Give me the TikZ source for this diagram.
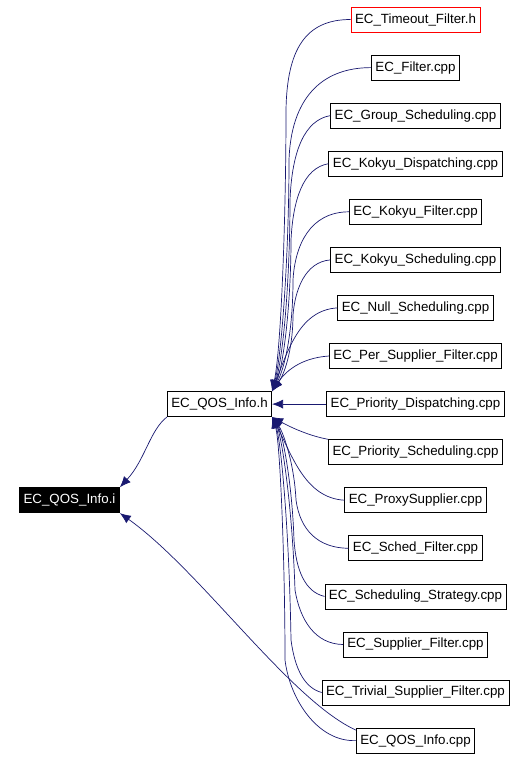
\documentclass[tikz,border=0pt]{standalone}
\usepackage{fontspec}
\setmainfont{Liberation Sans}
\usepackage{tikz}
\usetikzlibrary{arrows.meta,positioning}
\definecolor{edgeblue}{RGB}{25,25,112}

\begin{document}
\begin{tikzpicture}[x=1pt, y=-1pt,
  filebox/.style={draw, fill=white, line width=0.8pt, minimum height=25pt,
                  inner xsep=4pt, inner ysep=2pt, font=\fontsize{13.33}{16}\selectfont},
  arr/.style={-{Latex[length=11pt,width=9pt]}, draw=edgeblue, line width=0.7pt}
]
\useasboundingbox (0,0) rectangle (528,758);

\node[filebox, draw=red] (timeout) at (415.5,19.5)  {EC\_Timeout\_Filter.h};
\node[filebox] (filter)       at (415.5,67.6)  {EC\_Filter.cpp};
\node[filebox] (groupsched)   at (415.5,115.6) {EC\_Group\_Scheduling.cpp};
\node[filebox] (kokyudisp)    at (415.5,163.7) {EC\_Kokyu\_Dispatching.cpp};
\node[filebox] (kokyufilter)  at (415.5,211.8) {EC\_Kokyu\_Filter.cpp};
\node[filebox] (kokyusched)   at (415.5,259.9) {EC\_Kokyu\_Scheduling.cpp};
\node[filebox] (nullsched)    at (415.5,307.9) {EC\_Null\_Scheduling.cpp};
\node[filebox] (persupfilter) at (415.5,356.0) {EC\_Per\_Supplier\_Filter.cpp};
\node[filebox] (priodisp)     at (415.5,404.1) {EC\_Priority\_Dispatching.cpp};
\node[filebox] (priosched)    at (415.5,452.2) {EC\_Priority\_Scheduling.cpp};
\node[filebox] (proxysup)     at (415.5,500.2) {EC\_ProxySupplier.cpp};
\node[filebox] (schedfilter)  at (415.5,548.3) {EC\_Sched\_Filter.cpp};
\node[filebox] (schedstrat)   at (415.5,596.4) {EC\_Scheduling\_Strategy.cpp};
\node[filebox] (supfilter)    at (415.5,644.5) {EC\_Supplier\_Filter.cpp};
\node[filebox] (trivfilter)   at (415.5,692.5) {EC\_Trivial\_Supplier\_Filter.cpp};
\node[filebox] (qoscpp)       at (415.5,740.6) {EC\_QOS\_Info.cpp};
\node[filebox] (qosh)         at (219.5,404.1) {EC\_QOS\_Info.h};
\node[filebox, fill=black, text=white] (qosi) at (69.5,500.2) {EC\_QOS\_Info.i};

% upper bundle
\draw[arr] (timeout.west) .. controls (305,19.5) and (287,50) .. (286,110)
           .. controls (286,220) and (281,350) .. (qosh.north east);
\draw[arr] (filter.west) .. controls (320,67.6) and (291,100) .. (289,160)
           .. controls (289,250) and (282,355) .. (qosh.north east);
\draw[arr] (groupsched.west) .. controls (305,120) and (292,150) .. (290,200)
           .. controls (290,280) and (283,360) .. (qosh.north east);
\draw[arr] (kokyudisp.west) .. controls (303,168) and (293,200) .. (291,240)
           .. controls (291,300) and (284,365) .. (qosh.north east);
\draw[arr] (kokyufilter.west) .. controls (310,212) and (295,245) .. (293,280)
           .. controls (293,330) and (285,368) .. (qosh.north east);
\draw[arr] (kokyusched.west) .. controls (305,262) and (295,290) .. (293,315)
           .. controls (293,345) and (286,372) .. (qosh.north east);
\draw[arr] (nullsched.west) .. controls (300,310) and (288,350) .. (qosh.north east);
\draw[arr] (persupfilter.west) .. controls (300,358) and (285,372) .. (qosh.north east);

\draw[arr] (priodisp) -- (qosh);

% lower bundle
\draw[arr] (priosched.north west) .. controls (310,436) and (292,428) .. (qosh.south east);
\draw[arr] (proxysup.west) .. controls (305,498) and (292,455) .. (qosh.south east);
\draw[arr] (schedfilter.west) .. controls (318,548) and (300,530) .. (296,500)
           .. controls (294,460) and (282,430) .. (qosh.south east);
\draw[arr] (schedstrat.west) .. controls (305,592) and (296,570) .. (294,540)
           .. controls (292,480) and (282,432) .. (qosh.south east);
\draw[arr] (supfilter.west) .. controls (315,644) and (300,620) .. (295,590)
           .. controls (292,500) and (281,434) .. (qosh.south east);
\draw[arr] (trivfilter.west) .. controls (305,688) and (295,670) .. (291,640)
           .. controls (289,520) and (280,436) .. (qosh.south east);
\draw[arr] (qoscpp.west) .. controls (318,742) and (290,700) .. (285,660)
           .. controls (285,560) and (280,440) .. (qosh.south east);

% into the .i file
\draw[arr] (qosh.south west) .. controls (150,430) and (145,460) .. (qosi.north east);
\draw[arr] (qoscpp.170) .. controls (290,700) and (200,570) .. (qosi.south east);

\end{tikzpicture}
\end{document}
